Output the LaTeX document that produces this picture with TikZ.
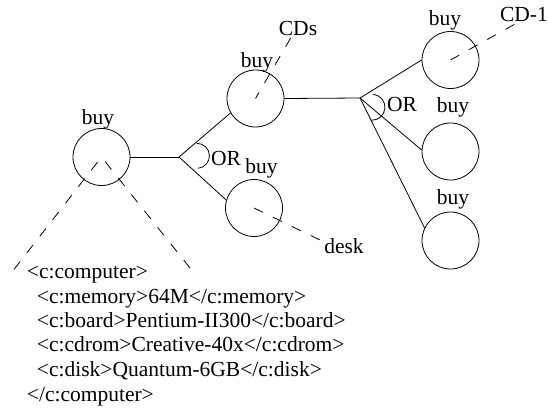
\documentclass[tikz,border=0pt]{standalone}
\usepackage{fontspec}
\setmainfont{Liberation Serif}
\begin{document}
\begin{tikzpicture}[x=1pt,y=-1pt,
  goal/.style={circle,draw,line width=0.8pt,minimum size=57pt,inner sep=0pt},
  lbl/.style={anchor=base,inner sep=0pt,font=\fontsize{21.5}{25}\selectfont},
  code/.style={anchor=base west,inner sep=0pt,font=\fontsize{21.5}{25}\selectfont},
  link/.style={line width=0.8pt},
  ref/.style={line width=0.8pt,dash pattern=on 10pt off 11pt}]
\useasboundingbox (0,0) rectangle (548,415);

% goal circles
\node[goal] (c1) at (101.5,157) {};
\node[goal] (c2) at (255.5,98.5) {};
\node[goal] (c3) at (254,208) {};
\node[goal] (c4) at (450.5,60) {};
\node[goal] (c5) at (450.5,151.5) {};
\node[goal] (c6) at (450.5,240.5) {};

% labels
\node[lbl] (b1) at (98,124) {buy};
\node[lbl] (b2) at (257,67) {buy};
\node[lbl] (b3) at (261.5,173) {buy};
\node[lbl] (b4) at (445,25) {buy};
\node[lbl] (b5) at (453,112) {buy};
\node[lbl] (b6) at (453,204) {buy};
\node[lbl] (cds) at (298,35) {CDs};
\node[lbl] (desk) at (344,253) {desk};
\node[lbl] (cd1) at (524,21) {CD-1};
\node[lbl] (or1) at (226,165) {OR};
\node[lbl] (or2) at (402,111) {OR};

% OR junctions
\coordinate (j1) at (179,157);
\coordinate (j2) at (360,98);
\draw[link] (c1.east) -- (j1);
\draw[link] (j1) -- (c2.210);
\draw[link] (j1) -- (c3.164);
\draw[link] (c2.east) -- (j2);
\draw[link] (j2) -- (c4.180);
\draw[link] (j2) -- (c5.177);
\draw[link] (j2) -- (c6.154);
\draw[link] ([shift={(17.7,-13.7)}]j1) arc[start angle=-91,end angle=84,radius=12.5];
\draw[link] ([shift={(13.3,-3.7)}]j2) arc[start angle=-84,end angle=91,radius=13];

% references to objects
\coordinate (e1) at (12,272);
\coordinate (e2) at (190,268);
\coordinate (e3) at (293,34);
\coordinate (e4) at (322,241);
\coordinate (e5) at (515,24);
\draw[ref,dash phase=14.5pt] (c1.center) -- (e1);
\draw[ref,dash phase=15pt] (c1.center) -- (e2);
\draw[ref,dash phase=3pt] (c2.center) -- (e3);
\draw[ref] (c3.center) -- (e4);
\draw[ref] (c4.center) -- (e5);

% XML description
\node[code] (x1) at (26.7,278.3) {<c:computer>};
\node[code] (x2) at (36.7,303) {<c:memory>64M</c:memory>};
\node[code] (x3) at (36.7,327.7) {<c:board>Pentium-II300</c:board>};
\node[code] (x4) at (36.7,351.7) {<c:cdrom>Creative-40x</c:cdrom>};
\node[code] (x5) at (36.7,376.7) {<c:disk>Quantum-6GB</c:disk>};
\node[code] (x6) at (26.7,401.7) {</c:computer>};
\end{tikzpicture}
\end{document}
